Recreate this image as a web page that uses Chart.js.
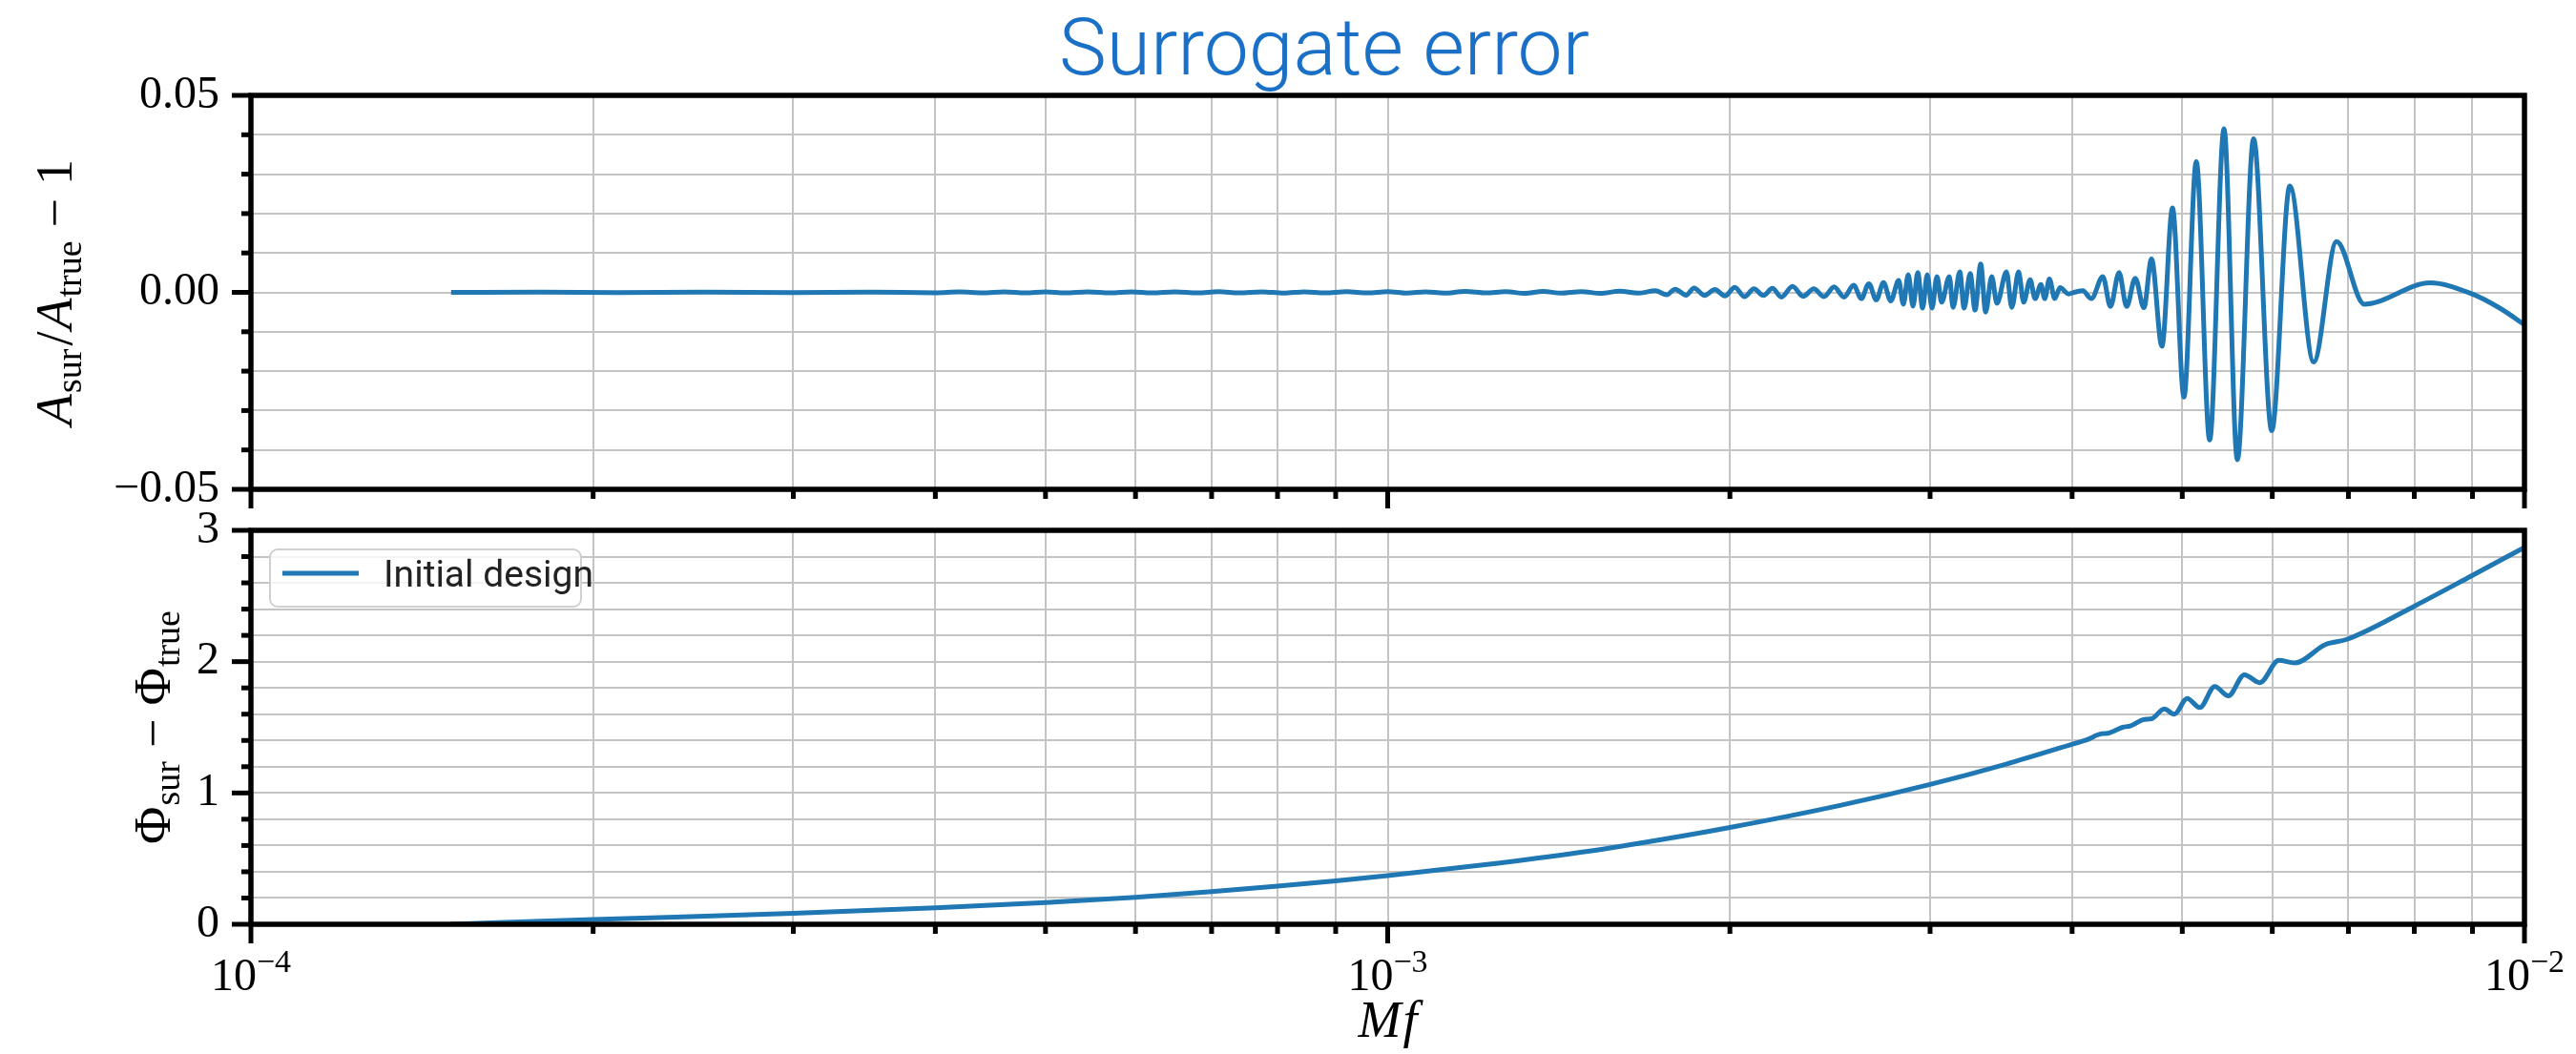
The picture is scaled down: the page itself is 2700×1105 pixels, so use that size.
<!DOCTYPE html>
<html>
<head>
<meta charset="utf-8">
<script src="https://cdn.jsdelivr.net/npm/chart.js@4.4.1/dist/chart.umd.min.js"></script>
<style>
  html, body { margin: 0; padding: 0; background: #fff; }
  #wrap { position: relative; width: 2700px; height: 1105px; overflow: hidden; }
  canvas { position: absolute; left: 0; top: 0; }
  #title {
    position: absolute; left: 1388px; top: 10px; transform: translateX(-50%);
    font: 300 84px/80px Roboto, 'Liberation Sans', Arial, sans-serif; color: #1a6fc7; white-space: nowrap;
  }
</style>
</head>
<body>
<div id="wrap">
  <canvas id="ampChart" width="2700" height="1105"></canvas>
  <canvas id="phaseChart" width="2700" height="1105"></canvas>
  <div id="title">Surrogate error</div>
</div>
<script>
// values
const seriesName = "Initial design";

// top panel: A_sur/A_true - 1 against Mf
const ampMf = [
  1.50e-4, 1.80e-4, 2.10e-4, 2.50e-4, 3.00e-4, 3.50e-4, 4.00e-4,
  4.20e-4, 4.40e-4, 4.60e-4, 4.80e-4, 5.00e-4, 5.20e-4, 5.45e-4, 5.70e-4, 5.95e-4, 6.20e-4,
  6.50e-4, 6.80e-4, 7.10e-4, 7.40e-4, 7.75e-4, 8.10e-4, 8.45e-4, 8.80e-4, 9.20e-4, 9.60e-4,
  1.00e-3, 1.04e-3, 1.08e-3, 1.12e-3, 1.17e-3, 1.22e-3, 1.27e-3, 1.32e-3, 1.37e-3, 1.42e-3,
  1.48e-3, 1.54e-3, 1.60e-3, 1.66e-3, 1.72e-3,
  1.76e-3, 1.79e-3, 1.83e-3, 1.86e-3, 1.90e-3, 1.94e-3, 1.98e-3, 2.02e-3, 2.06e-3, 2.10e-3,
  2.14e-3, 2.18e-3, 2.22e-3, 2.27e-3, 2.32e-3, 2.37e-3, 2.42e-3, 2.47e-3, 2.52e-3, 2.57e-3,
  2.61e-3, 2.65e-3, 2.69e-3, 2.73e-3, 2.77e-3,
  2.815e-3, 2.842e-3, 2.870e-3, 2.898e-3, 2.926e-3, 2.955e-3, 2.983e-3, 3.012e-3, 3.042e-3, 3.071e-3,
  3.119e-3, 3.143e-3, 3.186e-3, 3.214e-3, 3.254e-3, 3.286e-3, 3.324e-3, 3.357e-3, 3.399e-3, 3.435e-3,
  3.502e-3, 3.540e-3, 3.589e-3, 3.626e-3, 3.674e-3, 3.711e-3, 3.755e-3, 3.784e-3, 3.820e-3, 3.862e-3,
  3.903e-3, 3.971e-3, 4.017e-3,
  4.087e-3, 4.159e-3, 4.257e-3, 4.323e-3, 4.399e-3, 4.467e-3, 4.546e-3, 4.626e-3, 4.698e-3, 4.798e-3,
  4.902e-3, 5.017e-3, 5.144e-3, 5.285e-3, 5.441e-3, 5.590e-3, 5.777e-3, 5.993e-3, 6.217e-3, 6.525e-3,
  6.834e-3, 7.228e-3, 8.259e-3, 8.993e-3, 9.511e-3, 1.000e-2
];
const ampErr = [
  0.0000, 0.00005, -0.00005, 0.00005, -0.00005, 0.00005, -0.0001,
  0.0001, -0.0001, 0.00015, -0.0001, 0.00015, -0.00015, 0.0001, -0.00015, 0.00015, -0.0001,
  0.00015, -0.00015, 0.0002, -0.00015, 0.00015, -0.0002, 0.00015, -0.00015, 0.0002, -0.00015,
  0.0002, -0.0002, 0.00015, -0.0002, 0.00025, -0.00015, 0.0002, -0.00025, 0.00025, -0.0002,
  0.0002, -0.00025, 0.0003, -0.0002, 0.0004,
  -0.0006, 0.0008, -0.0007, 0.0011, -0.0008, 0.0007, -0.0009, 0.0013, -0.0011, 0.0009,
  -0.0008, 0.0010, -0.0012, 0.0015, -0.0010, 0.0009, -0.0011, 0.0014, -0.0012, 0.0018,
  -0.0016, 0.0022, -0.0019, 0.0025, -0.0022,
  0.0030, -0.0030, 0.0045, -0.0035, 0.0050, -0.0040, 0.0045, -0.0040, 0.0040, -0.0025,
  0.0040, -0.0038, 0.0052, -0.0040, 0.0048, -0.0045, 0.0072, -0.0050, 0.0040, -0.0028,
  0.0052, -0.0038, 0.0052, -0.0025, 0.0032, -0.0016, 0.0020, -0.0016, 0.0034, -0.0016,
  0.0012, -0.0004, 0.0000,
  0.0004, -0.0016, 0.0040, -0.0036, 0.0050, -0.0036, 0.0036, -0.0039, 0.0085, -0.0137,
  0.0214, -0.0266, 0.0332, -0.0375, 0.0415, -0.0425, 0.0390, -0.0351, 0.0270, -0.0177,
  0.0129, -0.0030, 0.0024, -0.0004, -0.0040, -0.0082
];

// bottom panel: Phi_sur - Phi_true against Mf
const phaseMf = [
  1.5e-4, 2e-4, 3e-4, 4e-4, 5e-4, 6e-4, 7e-4, 8e-4, 9e-4, 1e-3,
  1.25e-3, 1.5e-3, 1.75e-3, 2e-3, 2.5e-3, 3e-3, 3.5e-3, 4.01e-3, 4.12e-3, 4.24e-3,
  4.30e-3, 4.43e-3, 4.50e-3, 4.63e-3, 4.70e-3, 4.82e-3, 4.92e-3, 5.05e-3, 5.18e-3, 5.34e-3,
  5.49e-3, 5.67e-3, 5.85e-3, 6.08e-3, 6.28e-3, 6.68e-3, 6.98e-3, 8.01e-3, 8.99e-3, 1e-2
];
const phaseErr = [
  0.0, 0.036, 0.083, 0.125, 0.165, 0.205, 0.248, 0.29, 0.33, 0.37,
  0.465, 0.555, 0.648, 0.737, 0.905, 1.065, 1.22, 1.374, 1.405, 1.45,
  1.455, 1.50, 1.51, 1.56, 1.565, 1.64, 1.60, 1.72, 1.65, 1.81,
  1.74, 1.90, 1.84, 2.01, 1.99, 2.13, 2.17, 2.425, 2.655, 2.87
];

// ticks
const xTicks = [1e-4, 2e-4, 3e-4, 4e-4, 5e-4, 6e-4, 7e-4, 8e-4, 9e-4,
                1e-3, 2e-3, 3e-3, 4e-3, 5e-3, 6e-3, 7e-3, 8e-3, 9e-3, 1e-2];
const xLabelled = [1e-4, 1e-3, 1e-2];
const xLabelExp = ["\u22124", "\u22123", "\u22122"];
const ampTicks = [-0.05, -0.04, -0.03, -0.02, -0.01, 0, 0.01, 0.02, 0.03, 0.04, 0.05];
const ampLabelled = [-0.05, 0, 0.05];
const ampTickLabels = ["\u22120.05", "0.00", "0.05"];
const phaseTicks = [0, 0.2, 0.4, 0.6, 0.8, 1, 1.2, 1.4, 1.6, 1.8, 2, 2.2, 2.4, 2.6, 2.8, 3];
const phaseLabelled = [0, 1, 2, 3];
const phaseTickLabels = ["0", "1", "2", "3"];

if (ampMf.length !== ampErr.length || phaseMf.length !== phaseErr.length) {
  console.warn("data length mismatch", ampMf.length, ampErr.length, phaseMf.length, phaseErr.length);
}

const serif = "'Liberation Serif', 'DejaVu Serif', serif";
const lineColor = "#1f77b4";
const gridColor = "#c4c4c4";

function findLabel(v, vals, labels) {
  const i = vals.findIndex(w => Math.abs(w - v) < 1e-9);
  return i < 0 ? "" : labels[i];
}

// draws a row of text pieces (for sub/superscripts), centred on x
function drawParts(ctx, parts, x, y, rotated) {
  ctx.save();
  ctx.translate(x, y);
  if (rotated) ctx.rotate(-Math.PI / 2);
  ctx.textAlign = "left";
  ctx.textBaseline = "alphabetic";
  let w = 0;
  parts.forEach(p => { ctx.font = p.f; w += ctx.measureText(p.t).width + (p.gap || 0); });
  let cx = -w / 2;
  parts.forEach(p => {
    ctx.font = p.f;
    ctx.fillText(p.t, cx, p.dy || 0);
    cx += ctx.measureText(p.t).width + (p.gap || 0);
  });
  ctx.restore();
}

function roundBox(ctx, x, y, w, h, r) {
  ctx.beginPath();
  ctx.moveTo(x + r, y);
  ctx.arcTo(x + w, y, x + w, y + h, r);
  ctx.arcTo(x + w, y + h, x, y + h, r);
  ctx.arcTo(x, y + h, x, y, r);
  ctx.arcTo(x, y, x + w, y, r);
  ctx.closePath();
}

// spines, outward tick marks, axis labels with sub/superscripts, legend
const deco = {
  id: "deco",
  afterDraw(chart, args, o) {
    const { ctx, chartArea: a } = chart;
    const xs = chart.scales.x, ys = chart.scales.y;
    ctx.save();
    ctx.strokeStyle = "#000";
    ctx.fillStyle = "#000";
    ctx.lineWidth = 5;
    xs.ticks.forEach(t => {
      const px = xs.getPixelForValue(t.value);
      const len = findLabel(t.value, xLabelled, xLabelExp) ? 20 : 10;
      ctx.beginPath(); ctx.moveTo(px, a.bottom); ctx.lineTo(px, a.bottom + len); ctx.stroke();
    });
    ys.ticks.forEach(t => {
      const py = ys.getPixelForValue(t.value);
      const len = t.label ? 20 : 10;
      ctx.beginPath(); ctx.moveTo(a.left - len, py); ctx.lineTo(a.left, py); ctx.stroke();
    });
    ctx.lineWidth = 5.5;
    ctx.strokeRect(a.left, a.top, a.right - a.left, a.bottom - a.top);

    drawParts(ctx, o.yTitle, o.yTitleX, (a.top + a.bottom) / 2, true);

    if (o.xLabels) {
      xLabelled.forEach((v, i) => {
        drawParts(ctx, [
          { t: "10", f: "48px " + serif },
          { t: xLabelExp[i], f: "34px " + serif, dy: -19 }
        ], xs.getPixelForValue(v), a.bottom + 69, false);
      });
      drawParts(ctx, [
        { t: "M", f: "italic 54px " + serif, gap: 2 },
        { t: "f", f: "italic 54px " + serif }
      ], (a.left + a.right) / 2, a.bottom + 118, false);
    }

    if (o.legend) {
      const ds = chart.data.datasets[0];
      const bx = a.left + 20, by = a.top + 20;
      roundBox(ctx, bx, by, 326, 60, 8);
      ctx.fillStyle = "rgba(255,255,255,0.8)";
      ctx.fill();
      ctx.strokeStyle = "#d0d0d0";
      ctx.lineWidth = 2;
      ctx.stroke();
      ctx.strokeStyle = ds.borderColor;
      ctx.lineWidth = 5;
      ctx.beginPath(); ctx.moveTo(bx + 13, by + 25); ctx.lineTo(bx + 93, by + 25); ctx.stroke();
      ctx.fillStyle = "#222";
      ctx.font = "39px Roboto, 'Liberation Sans', sans-serif";
      ctx.textAlign = "left";
      ctx.textBaseline = "alphabetic";
      ctx.fillText(ds.label, bx + 119, by + 39);
    }
    ctx.restore();
  }
};

function makeChart(id, xsData, ysData, yTicks, yLabelled, yLabels, yMin, yMax, decoOpts, topPad, xHeight) {
  return new Chart(document.getElementById(id), {
    type: "line",
    data: {
      datasets: [{
        label: seriesName,
        data: xsData.map((x, i) => ({ x: x, y: ysData[i] })),
        borderColor: lineColor,
        borderWidth: 5,
        pointRadius: 0,
        fill: false,
        cubicInterpolationMode: "monotone",
        borderJoinStyle: "round"
      }]
    },
    options: {
      responsive: false,
      animation: false,
      devicePixelRatio: 1,
      layout: { padding: { top: topPad, right: 54, bottom: 0, left: 0 } },
      plugins: {
        legend: { display: false },
        tooltip: { enabled: false },
        deco: decoOpts
      },
      scales: {
        x: {
          type: "logarithmic",
          min: 1e-4,
          max: 1e-2,
          afterBuildTicks: s => { s.ticks = xTicks.map(v => ({ value: v })); },
          afterFit: s => { s.height = xHeight; },
          ticks: { display: false, autoSkip: false },
          grid: { color: gridColor, lineWidth: 2, drawTicks: false },
          border: { display: false }
        },
        y: {
          min: yMin,
          max: yMax,
          afterBuildTicks: s => { s.ticks = yTicks.map(v => ({ value: v })); },
          afterFit: s => { s.width = 263; },
          ticks: {
            autoSkip: false,
            padding: 33,
            color: "#000",
            font: { family: serif, size: 48 },
            callback: v => findLabel(v, yLabelled, yLabels)
          },
          grid: { color: gridColor, lineWidth: 2, drawTicks: false },
          border: { display: false }
        }
      }
    },
    plugins: [deco]
  });
}

const big = "54px " + serif, bigIt = "italic 54px " + serif, sub = "38px " + serif;

makeChart("ampChart", ampMf, ampErr, ampTicks, ampLabelled, ampTickLabels, -0.05, 0.05, {
  yTitleX: 75,
  yTitle: [
    { t: "A", f: bigIt, gap: 1 }, { t: "sur", f: sub, dy: 10, gap: 3 }, { t: "/", f: big, gap: 2 },
    { t: "A", f: bigIt, gap: 1 }, { t: "true", f: sub, dy: 10, gap: 14 },
    { t: "\u2212", f: big, gap: 14 }, { t: "1", f: big }
  ],
  xLabels: false,
  legend: false
}, 100, 1105 - 513);

makeChart("phaseChart", phaseMf, phaseErr, phaseTicks, phaseLabelled, phaseTickLabels, 0, 3, {
  yTitleX: 178,
  yTitle: [
    { t: "\u03A6", f: big, gap: 1 }, { t: "sur", f: sub, dy: 10, gap: 14 },
    { t: "\u2212", f: big, gap: 14 },
    { t: "\u03A6", f: big, gap: 1 }, { t: "true", f: sub, dy: 10 }
  ],
  xLabels: true,
  legend: true
}, 556, 1105 - 969);
</script>
</body>
</html>
